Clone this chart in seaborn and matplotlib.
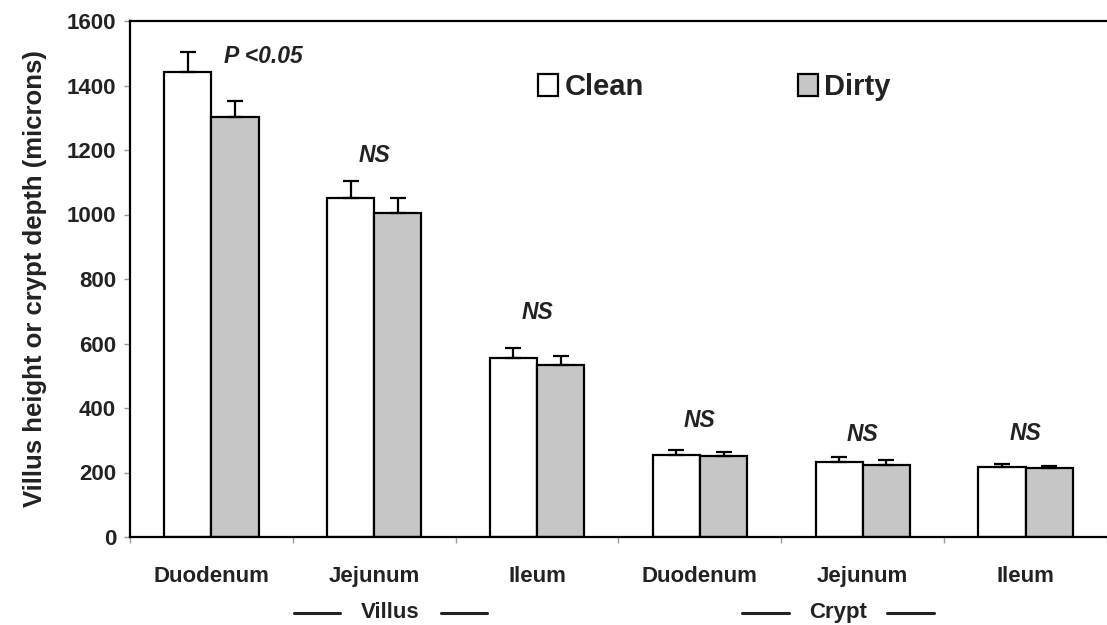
import matplotlib
matplotlib.use("Agg")
import matplotlib.pyplot as plt
import seaborn as sns
import pandas as pd
import numpy as np
from matplotlib.patches import Patch
from matplotlib.lines import Line2D

# Intestinal morphology: villus height and crypt depth, clean vs dirty housing
segments = ["Duodenum", "Jejunum", "Ileum", "Duodenum", "Jejunum", "Ileum"]
regions = ["Villus", "Villus", "Villus", "Crypt", "Crypt", "Crypt"]
clean_mean = [1442, 1051, 555, 254, 233, 217]
clean_se = [62, 53, 31, 16, 15, 9]
dirty_mean = [1302, 1005, 533, 251, 223, 214]
dirty_se = [50, 46, 28, 13, 16, 6]
significance = ["P <0.05", "NS", "NS", "NS", "NS", "NS"]
y_ticks = [0, 200, 400, 600, 800, 1000, 1200, 1400, 1600]

sns.set_theme(style="white")
plt.rcParams["font.family"] = ["Liberation Sans", "DejaVu Sans"]
INK = "#222222"

keys = [f"{r}-{s}" for r, s in zip(regions, segments)]
df = pd.DataFrame({
    "key": keys * 2,
    "group": ["Clean"] * 6 + ["Dirty"] * 6,
    "value": clean_mean + dirty_mean,
    "err": clean_se + dirty_se,
})

fig = plt.figure(figsize=(11.07, 6.25), dpi=100)
ax = fig.add_axes([130 / 1107, 88 / 625, (1107 - 130) / 1107, (537 - 21) / 625])

sns.barplot(data=df, x="key", y="value", hue="group", order=keys,
            hue_order=["Clean", "Dirty"], palette=["white", "#c6c6c6"],
            errorbar=None, width=0.58, edgecolor="black", linewidth=1.6,
            ax=ax, legend=False)

# Upward-only standard error bars on each bar
bars = [p for p in ax.patches if p.get_height() > 0]
bars.sort(key=lambda p: p.get_x())
errs = []
for i in range(6):
    errs += [clean_se[i], dirty_se[i]]
for p, e in zip(bars, errs):
    cx = p.get_x() + p.get_width() / 2
    ax.errorbar(cx, p.get_height(), yerr=[[0], [e]], fmt="none",
                ecolor="black", elinewidth=1.6, capsize=5.5, capthick=1.6,
                zorder=1)

# Significance notes above each pair (offset above the taller error bar)
note_gap = [0, 80, 110, 90, 70, 95]
for i, s in enumerate(significance):
    top = max(clean_mean[i] + clean_se[i], dirty_mean[i] + dirty_se[i])
    if s.startswith("P"):
        ax.text(i + 0.32, 1490, s, ha="center", va="center", fontsize=16.5,
                fontweight="bold", style="italic", color=INK)
    else:
        ax.text(i, top + note_gap[i], s, ha="center", va="center",
                fontsize=16.5, fontweight="bold", style="italic", color=INK)

ax.set_xlim(-0.5, 5.5)
ax.set_ylim(0, 1600)
ax.set_yticks(y_ticks)
ax.set_yticklabels([str(t) for t in y_ticks], fontsize=16, fontweight="bold",
                   color=INK)
ax.set_xticks(range(6))
ax.set_xticklabels(segments, fontsize=16, fontweight="bold", color=INK)
ax.set_xticks(np.arange(-0.5, 6, 1), minor=True)
ax.tick_params(axis="x", which="major", length=0, pad=21)
ax.tick_params(axis="x", which="minor", length=4, color="#999999", width=1,
               direction="out", bottom=True)
ax.tick_params(axis="y", which="major", length=4, color="#999999", width=1,
               direction="out", left=True, pad=6)
ax.set_xlabel("")
ax.set_ylabel("Villus height or crypt depth (microns)", fontsize=18.5,
              fontweight="bold", color=INK, labelpad=14)

for side in ["left", "bottom", "top"]:
    ax.spines[side].set_visible(True)
    ax.spines[side].set_color("black")
    ax.spines[side].set_linewidth(1.6)
ax.spines["right"].set_visible(False)

# Region labels under the segment names, flanked by short rules
def region_label(x_center, label, half_gap, rule_len):
    y = -235
    ax.text(x_center, y, label, ha="center", va="center", fontsize=16,
            fontweight="bold", color=INK, clip_on=False)
    for sgn in (-1, 1):
        x0 = x_center + sgn * half_gap
        x1 = x0 + sgn * rule_len
        ax.add_line(Line2D([x0, x1], [y, y], color=INK, linewidth=2.2,
                           clip_on=False))

region_label(1.1, "Villus", 0.31, 0.28)
region_label(3.85, "Crypt", 0.30, 0.29)

# Legend for housing condition
handles = [Patch(facecolor="white", edgecolor="black", linewidth=1.6, label="Clean"),
           Patch(facecolor="#c6c6c6", edgecolor="black", linewidth=1.6, label="Dirty")]
leg = ax.legend(handles=handles, ncol=2, frameon=False, loc="center left",
                bbox_to_anchor=((538 - 130) / 977, (537 - 87) / 516),
                prop={"size": 21, "weight": "bold"}, handlelength=0.7,
                handleheight=0.8, handletextpad=0.2, columnspacing=5.3,
                borderaxespad=0, borderpad=0)
for t in leg.get_texts():
    t.set_color(INK)

fig.savefig("out.png", dpi=100, facecolor="white")
